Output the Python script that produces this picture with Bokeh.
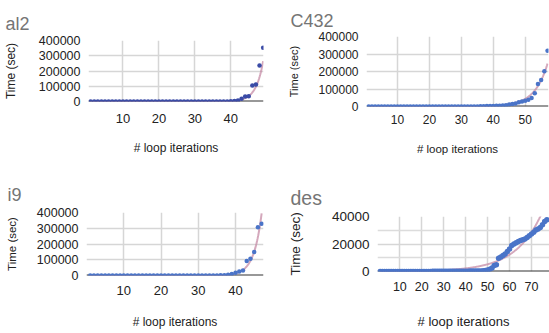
import numpy as np
from bokeh.plotting import figure
from bokeh.models import FixedTicker, Span, Range1d, BasicTickFormatter
from bokeh.layouts import column, row
from bokeh.embed import file_html
from bokeh.resources import INLINE

FONT = "Liberation Sans"

# ---------------- data ----------------
al2_iter = list(range(1, 50))
al2_time = [0, 0, 1, 1, 1, 2, 2, 3, 3, 4, 5, 6, 7, 8, 10, 12, 14, 17, 20, 24,
            29, 35, 42, 50, 60, 72, 86, 103, 124, 149, 179, 215, 258, 310, 372,
            446, 535, 642, 770, 924, 2500, 6000, 18000, 33000, 35000, 105000,
            111000, 236000, 352000]

c432_iter = list(range(1, 58))
c432_time = [0, 0, 1, 1, 1, 2, 2, 3, 4, 5, 6, 7, 9, 11, 13, 16, 19, 23, 28, 34,
             41, 50, 60, 72, 87, 105, 126, 152, 183, 220, 265, 320, 385, 460,
             560, 1500, 2000, 2500, 3000, 3500, 4000, 5000, 6000, 7500, 11000,
             14000, 17000, 24000, 29000, 33000, 38000, 48000, 76000, 129000,
             152000, 201000, 319000]

i9_iter = list(range(1, 48))
i9_time = [0, 0, 1, 1, 1, 2, 2, 3, 3, 4, 5, 6, 7, 9, 11, 13, 16, 19, 23, 28,
           34, 41, 50, 60, 72, 87, 105, 126, 152, 183, 220, 265, 320, 385, 460,
           900, 2000, 5000, 10000, 17000, 25000, 31000, 92000, 107000, 149000,
           307000, 328000]

des_iter = list(range(1, 78))
des_time = [5, 6, 7, 8, 9, 10, 12, 13, 15, 17, 19, 21, 24, 27, 30, 34, 38, 43,
            48, 54, 60, 67, 75, 84, 94, 105, 117, 130, 145, 160, 170, 180, 190,
            200, 210, 220, 230, 240, 250, 260, 270, 285, 300, 320, 340, 370,
            420, 500, 700, 1100, 1700, 2600, 4300, 5000, 9600, 10500, 11600,
            12800, 14500, 16400, 19000, 20000, 21000, 21900, 22500, 23100,
            23700, 24800, 26000, 27200, 28600, 30100, 31000, 32000, 34000,
            36400, 37600]

# exponential trendlines: (anchor x, value at anchor, growth rate)
al2_trend = (49, 265000, 0.50)
c432_trend = (57, 245000, 0.245)
i9_trend = (47, 395000, 0.48)
des_trend = (77, 51700, 0.0844)

al2_xticks = [10, 20, 30, 40]
c432_xticks = [10, 20, 30, 40, 50]
i9_xticks = [10, 20, 30, 40]
des_xticks = [10, 20, 30, 40, 50, 60, 70]

big_yticks = [0, 100000, 200000, 300000, 400000]
des_yticks = [0, 20000, 40000]
des_yminor = [10000, 30000]

Y_TITLE = "Time (sec)"
X_TITLE = "# loop iterations"


def panel(title, xs, ys, trend, xr, yr, xticks, yticks, yminor,
          w, h, left, right, top, bottom, dot_color, dot_size,
          title_size, title_offset, title_standoff,
          ytick_size, xtick_size, ylab_size, xlab_size,
          ylab_standoff, xlab_standoff, xtick_standoff):
    p = figure(width=w, height=h, output_backend="svg", toolbar_location=None,
               x_range=Range1d(*xr), y_range=Range1d(*yr),
               min_border_left=left, min_border_right=right,
               min_border_top=top, min_border_bottom=bottom,
               outline_line_color=None, background_fill_color="white",
               border_fill_color="white", frame_align=False)
    p.title.text = title
    p.title.text_font = FONT
    p.title.text_font_size = f"{title_size}px"
    p.title.text_font_style = "normal"
    p.title.text_color = "#757575"
    p.title.align = "left"
    p.title.offset = title_offset
    p.title.standoff = title_standoff

    p.xaxis.ticker = FixedTicker(ticks=xticks)
    p.yaxis.ticker = FixedTicker(ticks=yticks, minor_ticks=yminor)
    p.yaxis.formatter = BasicTickFormatter(use_scientific=False)
    for ax in (p.xaxis[0], p.yaxis[0]):
        ax.axis_line_color = None
        ax.major_tick_line_color = None
        ax.minor_tick_line_color = None
        ax.major_tick_out = 0
        ax.major_tick_in = 0
        ax.minor_tick_out = 0
        ax.major_label_text_font = FONT
        ax.major_label_text_color = "#222222"
        ax.axis_label_text_font = FONT
        ax.axis_label_text_font_style = "normal"
        ax.axis_label_text_color = "#222222"
    p.yaxis.major_label_text_font_size = f"{ytick_size}px"
    p.xaxis.major_label_text_font_size = f"{xtick_size}px"
    p.yaxis.axis_label = Y_TITLE
    p.xaxis.axis_label = X_TITLE
    p.yaxis.axis_label_text_font_size = f"{ylab_size}px"
    p.xaxis.axis_label_text_font_size = f"{xlab_size}px"
    p.yaxis.major_label_standoff = 8
    p.xaxis.major_label_standoff = int(xtick_standoff)
    p.yaxis.axis_label_standoff = int(ylab_standoff)
    p.xaxis.axis_label_standoff = int(xlab_standoff)

    p.xgrid.grid_line_color = "#d6d6d6"
    p.xgrid.grid_line_width = 1.5
    p.ygrid.grid_line_color = "#d6d6d6"
    p.ygrid.grid_line_width = 1.5
    if yminor:
        p.ygrid.minor_grid_line_color = "#dcdcdc"
        p.ygrid.minor_grid_line_width = 1.5

    p.add_layout(Span(location=0, dimension="width", line_color="#333333",
                      line_width=2, level="underlay"))

    ax_, av, ab = trend
    tx = np.linspace(xs[0], xs[-1], 300)
    ty = av * np.exp(ab * (tx - ax_))
    p.line(tx, ty, line_color="#c58ba6", line_alpha=0.75, line_width=2)
    p.scatter(xs, ys, size=dot_size, fill_color=dot_color,
              line_color=dot_color, line_width=0)
    return p


p1 = panel("al2", al2_iter, al2_time, al2_trend, (0.4, 49.1), (0, 400000),
           al2_xticks, big_yticks, [], 275, 166, 88, 12, 40, 65,
           "#3a4ba6", 4.5, 18, -83, 14,
           12.5, 13, 12, 12, 18, 15, 12)
p2 = panel("C432", c432_iter, c432_time, c432_trend, (0.3, 57.3), (0, 400000),
           c432_xticks, big_yticks, [], 274, 166, 91, 1, 36, 60,
           "#4a74c8", 4.5, 18, -76, 11,
           12, 12, 11, 11.5, 15, 16, 8)
p3 = panel("i9", i9_iter, i9_time, i9_trend, (0.0, 47.5), (0, 400000),
           i9_xticks, big_yticks, [], 275, 167, 86, 12, 46, 58,
           "#4a74c8", 4.5, 18, -79, 15,
           12.5, 13, 11.5, 12, 16, 17, 10)
p4 = panel("des", des_iter, des_time, des_trend, (-0.2, 78.2), (0, 40000),
           des_xticks, des_yticks, des_yminor, 274, 167, 102, 0, 50, 62,
           "#4a74c8", 5.5, 19.5, -87, 16,
           13.5, 12.5, 13.5, 13, 26, 20, 10)

layout = column(row(p1, p2, spacing=0), row(p3, p4, spacing=0), spacing=0)

open("out.html", "w").write(file_html(layout, INLINE))
